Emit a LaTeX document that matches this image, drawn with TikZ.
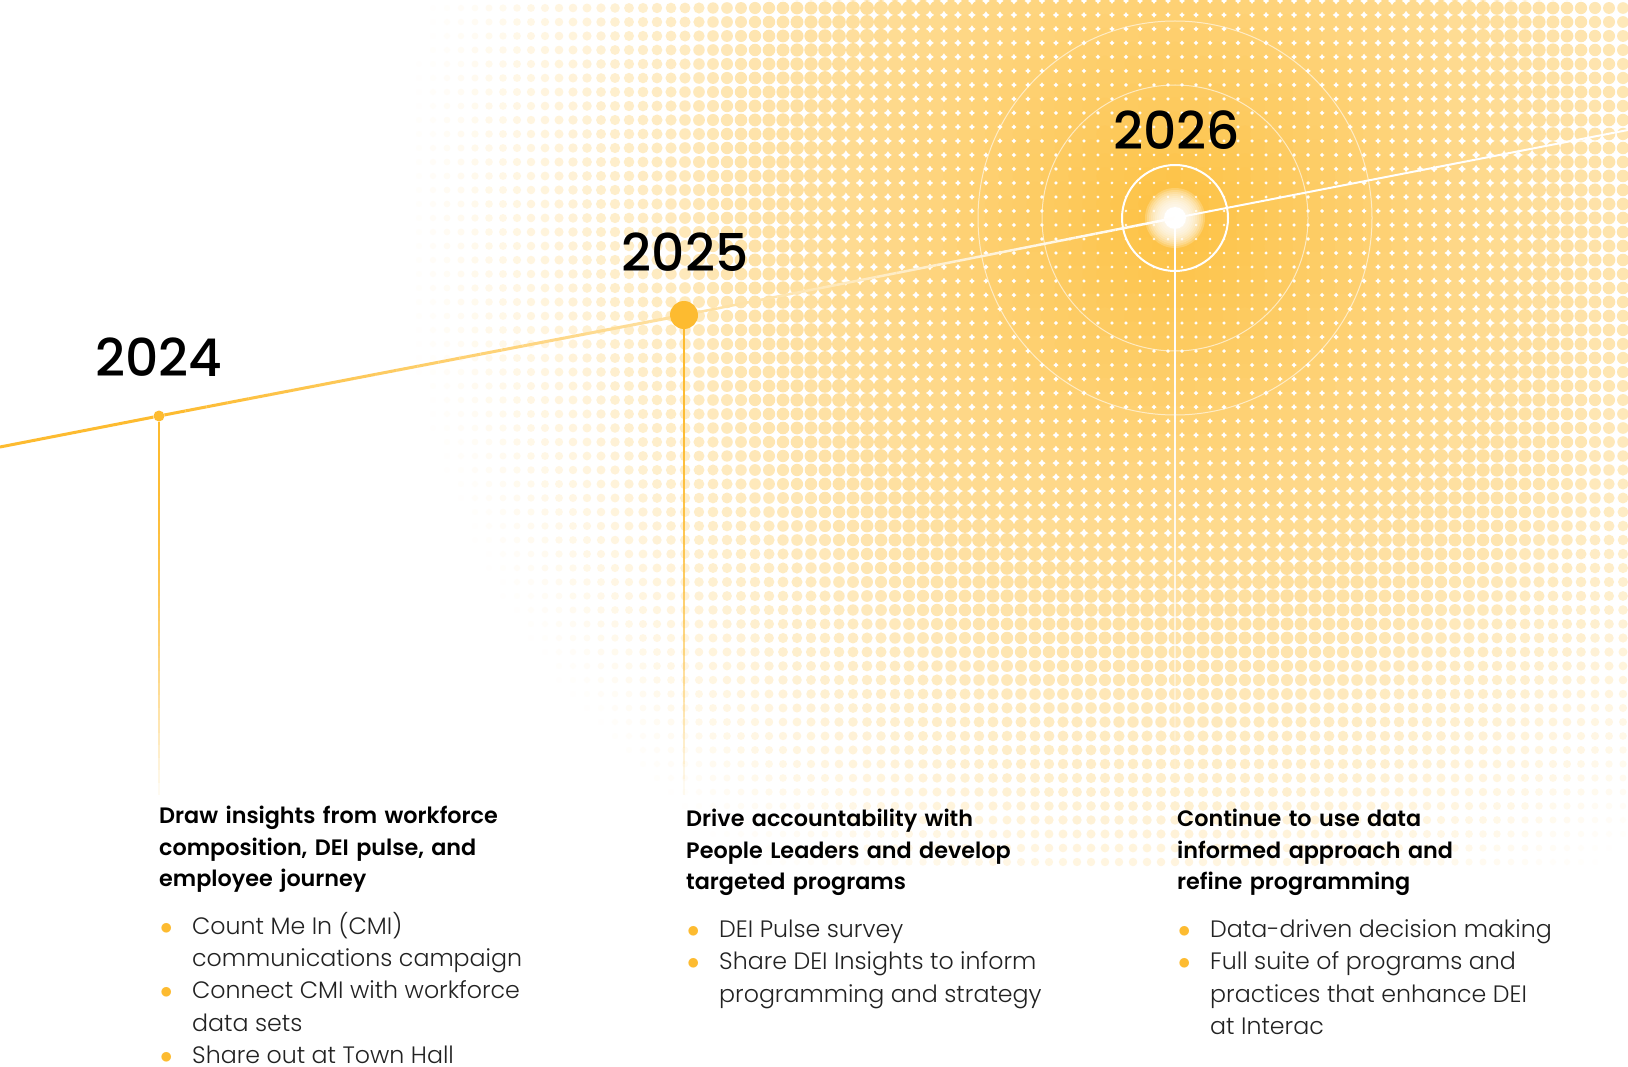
\documentclass[tikz,border=0pt]{standalone}
\usepackage{fontspec}
\setmainfont{Poppins}
\newfontfamily\popmed{Poppins Medium}
\newfontfamily\popsemi{Poppins SemiBold}
\newfontfamily\poplight{Poppins Light}
\usepackage{xcolor}
\usetikzlibrary{calc,positioning}
\definecolor{sunny}{HTML}{FDBB30}
\definecolor{inktext}{HTML}{222222}
\newcommand{\ybul}{\hspace{1pt}\textcolor{sunny}{$\bullet$}}
\tikzset{
  yearlbl/.style={anchor=base, inner sep=0pt, font=\fontsize{52}{52}\selectfont\popmed},
  headtxt/.style={anchor=north west, inner sep=0pt, text width=440pt, align=left, font=\fontsize{22.3}{31.5}\selectfont\popsemi},
  itemtxt/.style={anchor=north west, inner sep=0pt, text=inktext, font=\fontsize{23.7}{32.2}\selectfont\poplight},
  yeardot/.style={circle, fill=sunny, inner sep=0pt}
}
\begin{document}
\begin{tikzpicture}[x=1pt,y=-1pt]
\useasboundingbox (0,0) rectangle (1628,1067);
\fill[white] (0,0) rectangle (1628,1067);
\coordinate (sun) at (1175,218);
% halftone glow round 2026
\begin{scope}
\clip (0,0) rectangle (1628,1067);
\foreach \j in {-16,...,46}{
 \foreach \i in {-54,...,33}{
  \pgfmathsetmacro{\dst}{veclen(\i*14,\j*14)/780}
  \ifdim\dst pt<0.99pt
   \pgfmathsetmacro{\rr}{9*(1-0.7*\dst*sqrt(\dst))}
   \pgfmathtruncatemacro{\pc}{92*(1-\dst)}
   \fill[sunny!\pc!white] (1175+\i*14,218+\j*14) circle (\rr pt);
  \fi
 }}
\end{scope}
\fill[white] (sun) circle (11pt);
\foreach \r in {30,28,...,12}
  \fill[white,opacity=0.2] (sun) circle (\r pt);
\node[circle, draw=white, line width=2pt, minimum size=106pt, inner sep=0pt] (ring26) at (sun) {};
\draw[white, opacity=0.6, line width=1pt] (sun) circle (133pt) (sun) circle (197pt);

\coordinate (lstart) at (0,447);
\coordinate (lend) at (1628,130);
\node[yeardot, minimum size=11pt] (d24) at (159,416) {};
\node[yeardot, minimum size=28pt] (d25) at (684,315) {};
\coordinate (b24) at (159,795);
\coordinate (b25) at (684,795);
\coordinate (b26) at (1175,775);

\draw[sunny, line width=3pt] (lstart) -- (d24);
\path ($(d24)!5.5pt!(d25)$) coordinate (g1) ($(d25)!14pt!(d24)$) coordinate (g2)
      ($(d25)!14pt!(sun)$) coordinate (g3);
\foreach \k in {0,...,23}{
  \pgfmathsetmacro{\kk}{(\k+1)/24}
  \pgfmathtruncatemacro{\pc}{100-2.3*\k}
  \draw[line width=3pt, sunny!\pc!white] ($(g1)!\k/24!(g2)$) -- ($(g1)!\kk!(g2)$);
  \pgfmathtruncatemacro{\pc}{45-1.9*\k}
  \draw[line width=2.5pt, sunny!\pc!white] ($(g3)!\k/24!(sun)$) -- ($(g3)!\kk!(sun)$);
}
\draw[white, line width=2pt] (sun) -- (lend);

\foreach \k in {0,...,29}{
  \pgfmathsetmacro{\kk}{(\k+1)/30}
  \pgfmathsetmacro{\op}{1-(\k/30)^2}
  \draw[line width=2.5pt, sunny, opacity=\op] ($(d24.south)!\k/30!(b24)$) -- ($(d24.south)!\kk!(b24)$);
  \draw[line width=2.5pt, sunny, opacity=\op] ($(d25.south)!\k/30!(b25)$) -- ($(d25.south)!\kk!(b25)$);
  \pgfmathsetmacro{\op}{1-(\k/30)^3}
  \draw[line width=2.5pt, white, opacity=\op] ($(sun)!\k/30!(b26)$) -- ($(sun)!\kk!(b26)$);
}

\node[yearlbl] (t24) at (159,377) {2024};
\node[yearlbl] (t25) at (685,272) {2025};
\node[yearlbl] (t26) at (1177,150) {2026};

\node[headtxt] (h24) at (159,806) {Draw insights from workforce\\composition, DEI pulse, and\\employee journey};
\node[itemtxt, below=19pt of h24.south west, anchor=north west] (l24) {\begin{tabular}{@{}p{33pt}@{}l@{}}
  \ybul & Count Me In (CMI)\\ & communications campaign\\
  \ybul & Connect CMI with workforce\\ & data sets\\
  \ybul & Share out at Town Hall
\end{tabular}};
\node[headtxt] (h25) at (686,809) {Drive accountability with\\People Leaders and develop\\targeted programs};
\node[itemtxt, below=19pt of h25.south west, anchor=north west] (l25) {\begin{tabular}{@{}p{33pt}@{}l@{}}
  \ybul & DEI Pulse survey\\
  \ybul & Share DEI Insights to inform\\ & programming and strategy
\end{tabular}};
\node[headtxt] (h26) at (1177,809) {Continue to use data\\informed approach and\\refine programming};
\node[itemtxt, below=19pt of h26.south west, anchor=north west] (l26) {\begin{tabular}{@{}p{33pt}@{}l@{}}
  \ybul & Data-driven decision making\\
  \ybul & Full suite of programs and\\ & practices that enhance DEI\\ & at Interac
\end{tabular}};
\end{tikzpicture}
\end{document}
